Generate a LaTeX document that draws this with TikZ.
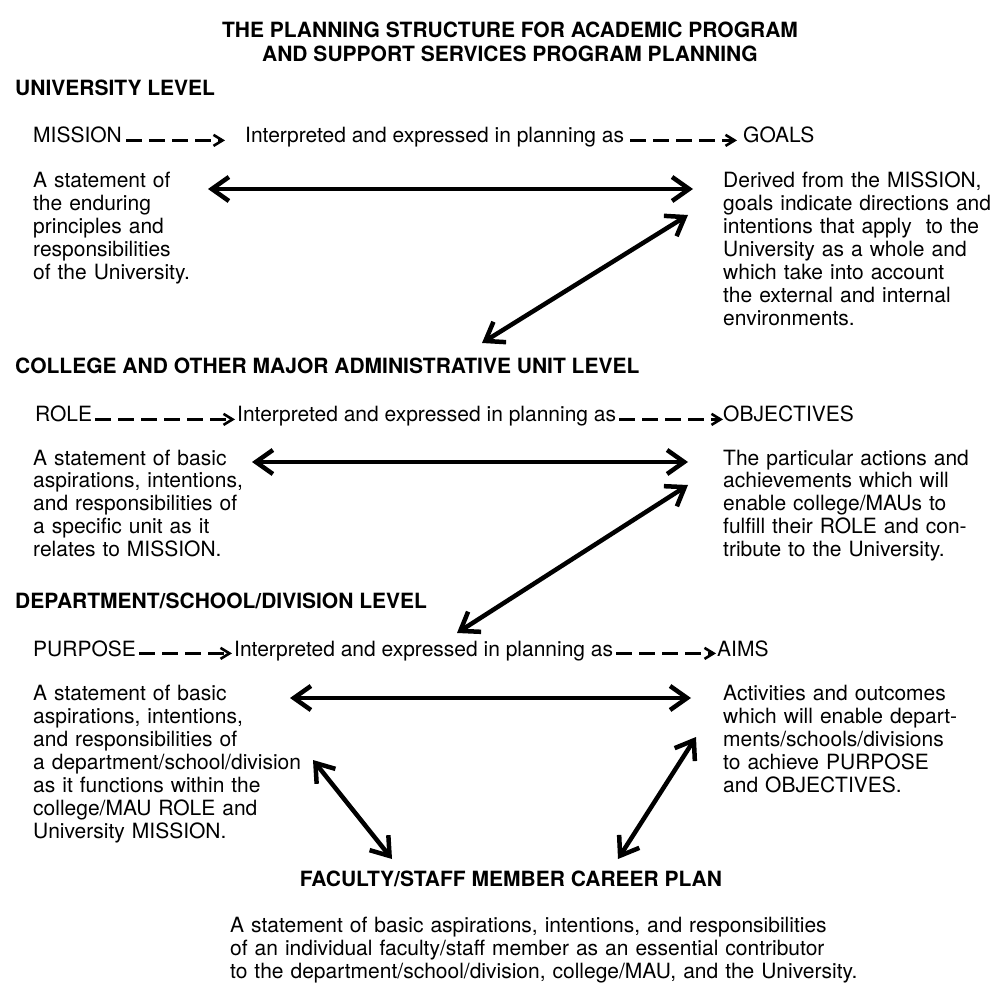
\documentclass[tikz,border=0pt]{standalone}
\usepackage{fontspec}
\setmainfont{TeX Gyre Heros}
\usetikzlibrary{arrows.meta}
\begin{document}
\begin{tikzpicture}[x=1pt,y=-1pt,
  txt/.style={inner sep=0pt, anchor=base west, font=\fontsize{21}{23}\selectfont},
  blk/.style={txt, text width=340pt, align=left},
  hd/.style={txt, font=\fontsize{21}{23}\selectfont\bfseries},
  flow/.style={line width=3pt, dash pattern=on 16pt off 7pt,
    -{Straight Barb[length=9pt,width=11pt,line width=2.6pt]}},
  link/.style={line width=4.5pt,
    {Straight Barb[length=17pt,width=24pt]}-{Straight Barb[length=17pt,width=24pt]}}
]
\fill[white] (0,0) rectangle (997,984);
\useasboundingbox (0,0) rectangle (997,984);

% title
\node[hd, anchor=base] (title1) at (510,38) {THE PLANNING STRUCTURE FOR ACADEMIC PROGRAM};
\node[hd, anchor=base] (title2) at (510,62) {AND SUPPORT SERVICES PROGRAM PLANNING};

% ---------------- university level
\node[hd] (ulev) at (15,96) {UNIVERSITY LEVEL};
\node[txt] (mission) at (33,143) {MISSION};
\node[txt] (interp1) at (245,143) {Interpreted and expressed in planning as};
\node[txt] (goals) at (743,143) {GOALS};
\draw[flow, shorten <=4pt, shorten >=20pt] (mission.mid east) -- (interp1.mid west);
\draw[flow, shorten <=6pt, shorten >=6pt] (interp1.mid east) -- (goals.mid west);

\node[blk] (missiontxt) at (33,188) {A statement of\\the enduring\\principles and\\responsibilities\\of the University.};
\node[blk] (goalstxt) at (723,188) {Derived from the MISSION,\\goals indicate directions and\\intentions that apply\ \ to the\\University as a whole and\\which take into account\\the external and internal\\environments.};

\coordinate (h1l) at (208,189);
\coordinate (h1r) at (693,189);
\draw[link] (h1l) -- (h1r);
\coordinate (d1u) at (688,215);
\coordinate (d1l) at (482,343);
\draw[link] (d1u) -- (d1l);

% ---------------- college / MAU level
\node[hd] (clev) at (15,374) {COLLEGE AND OTHER MAJOR ADMINISTRATIVE UNIT LEVEL};
\node[txt] (role) at (35,422) {ROLE};
\node[txt] (interp2) at (237,422) {Interpreted and expressed in planning as};
\node[txt] (objectives) at (723,422) {OBJECTIVES};
\draw[flow, shorten <=3pt, shorten >=2pt] (role.mid east) -- (interp2.mid west);
\draw[flow, shorten <=3pt, shorten >=0pt] (interp2.mid east) -- (objectives.mid west);

\node[blk] (roletxt) at (33,465) {A statement of basic\\aspirations, intentions,\\and responsibilities of\\a specific unit as it\\relates to MISSION.};
\node[blk] (objtxt) at (723,465) {The particular actions and\\achievements which will\\enable college/MAUs to\\fulfill their ROLE and con-\\tribute to the University.};

\coordinate (h2l) at (252,462);
\coordinate (h2r) at (688,462);
\draw[link] (h2l) -- (h2r);
\coordinate (d2u) at (688,485);
\coordinate (d2l) at (457,633);
\draw[link] (d2u) -- (d2l);

% ---------------- department level
\node[hd] (dlev) at (15,608) {DEPARTMENT/SCHOOL/DIVISION LEVEL};
\node[txt] (purpose) at (33,656) {PURPOSE};
\node[txt] (interp3) at (234,656) {Interpreted and expressed in planning as};
\node[txt] (aims) at (717,656) {AIMS};
\draw[flow, shorten <=3pt, shorten >=2pt] (purpose.mid east) -- (interp3.mid west);
\draw[flow, shorten <=3pt, shorten >=1pt] (interp3.mid east) -- (aims.mid west);

\node[blk] (purptxt) at (33,700) {A statement of basic\\aspirations, intentions,\\and responsibilities of\\a department/school/division\\as it functions within the\\college/MAU ROLE and\\University MISSION.};
\node[blk] (aimstxt) at (723,700) {Activities and outcomes\\which will enable depart-\\ments/schools/divisions\\to achieve PURPOSE\\and OBJECTIVES.};

\coordinate (h3l) at (290,698);
\coordinate (h3r) at (691,698);
\draw[link] (h3l) -- (h3r);

% ---------------- faculty / staff
\node[hd, anchor=base] (flev) at (511,886) {FACULTY/STAFF MEMBER CAREER PLAN};
\node[blk, text width=700pt] (facttxt) at (230,932) {A statement of basic aspirations, intentions, and responsibilities\\of an individual faculty/staff member as an essential contributor\\to the department/school/division, college/MAU, and the University.};

\coordinate (d3u) at (313,760);
\coordinate (d3l) at (392,859);
\draw[link] (d3u) -- (d3l);
\coordinate (d4u) at (696,737);
\coordinate (d4l) at (618,859);
\draw[link] (d4u) -- (d4l);
\end{tikzpicture}
\end{document}
